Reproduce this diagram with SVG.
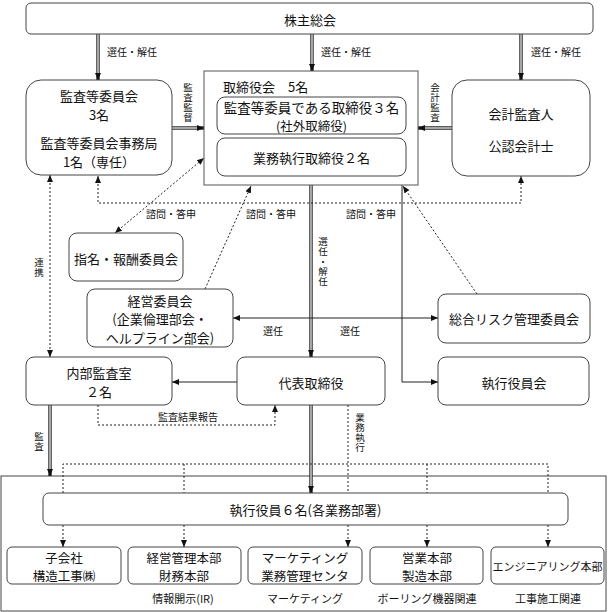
<svg xmlns="http://www.w3.org/2000/svg" width="611" height="612" viewBox="0 0 611 612">
<style>
text{font-family:"Noto Sans CJK JP","Noto Sans",sans-serif;fill:#111;text-anchor:middle;dominant-baseline:central}
.t13{font-size:13px}
.t12{font-size:12.5px}
.t14{font-size:13.5px}
.t11{font-size:11px}
.lb{font-size:10px}
.vt{font-size:9.5px;writing-mode:vertical-rl;letter-spacing:0.5px}
.box{fill:#fff;stroke:#444;stroke-width:1}
.sq{fill:#fff;stroke:#555;stroke-width:1}
.ln{fill:none;stroke:#222;stroke-width:1}
.dot{fill:none;stroke:#222;stroke-width:1;stroke-dasharray:2,2}
.dbo{fill:none;stroke:#222;stroke-width:3.4}
.dbi{fill:none;stroke:#fff;stroke-width:1.2}
</style>
<defs>
<marker id="ah" markerUnits="userSpaceOnUse" markerWidth="8" markerHeight="8" refX="7" refY="3" orient="auto-start-reverse" viewBox="0 0 8 6">
<path d="M0,0 L7,3 L0,6 z" fill="#111"/>
</marker>
</defs>

<rect x="1" y="476" width="605" height="135" fill="none" stroke="#444" stroke-width="1"/>

<g id="connectors">
<path class="dbo" d="M98,34 V80" marker-end="url(#ah)"/><path class="dbi" d="M98,34 V73"/>
<path class="dbo" d="M312,34 V71" marker-end="url(#ah)"/><path class="dbi" d="M312,34 V64"/>
<path class="dbo" d="M521,34 V80" marker-end="url(#ah)"/><path class="dbi" d="M521,34 V73"/>
<path class="dbo" d="M172,128 H204" marker-end="url(#ah)"/><path class="dbi" d="M172,128 H197"/>
<path class="dbo" d="M452,128 H418" marker-end="url(#ah)"/><path class="dbi" d="M452,128 H425"/>
<path class="dbo" d="M311,185 V357" marker-end="url(#ah)"/><path class="dbi" d="M311,185 V350"/>
<path class="dbo" d="M50,405 V476" marker-end="url(#ah)"/><path class="dbi" d="M50,405 V469"/>
<path class="dbo" d="M311,405 V493" marker-end="url(#ah)"/><path class="dbi" d="M311,405 V486"/>
<path class="ln" d="M402,185 V382 H438" marker-end="url(#ah)"/>
<path class="ln" d="M237,382 H172" marker-end="url(#ah)"/>
<path class="ln" d="M233,318 H438" marker-start="url(#ah)" marker-end="url(#ah)"/>
<path class="dot" d="M50,175 V357" marker-start="url(#ah)" marker-end="url(#ah)"/>
<path class="dot" d="M98,176 V203 H521 V176" marker-start="url(#ah)" marker-end="url(#ah)"/>
<path class="dot" d="M115,233 L204,158" marker-start="url(#ah)" marker-end="url(#ah)"/>
<path class="dot" d="M205,289 L251,186" marker-end="url(#ah)"/>
<path class="dot" d="M477,294 L403,186" marker-end="url(#ah)"/>
<path class="dot" d="M98,405 V425 H275 V405" marker-end="url(#ah)"/>
<path class="dot" d="M348,405 V493"/>
<path class="dot" d="M63,493 V464 H548 V493"/>
<path class="dot" d="M184,464 V493"/>
<path class="dot" d="M427,464 V493"/>
<path class="dot" d="M63,525 V547" marker-end="url(#ah)"/>
<path class="dot" d="M184,525 V547" marker-end="url(#ah)"/>
<path class="dot" d="M348,525 V547" marker-end="url(#ah)"/>
<path class="dot" d="M427,525 V547" marker-end="url(#ah)"/>
<path class="dot" d="M548,525 V547" marker-end="url(#ah)"/>
<text class="lb" x="132" y="51">選任・解任</text>
<text class="lb" x="346" y="51">選任・解任</text>
<text class="lb" x="556" y="51">選任・解任</text>
<text class="lb" x="171" y="213">諮問・答申</text>
<text class="lb" x="271" y="213">諮問・答申</text>
<text class="lb" x="371" y="213">諮問・答申</text>
<text class="lb" x="273" y="330">選任</text>
<text class="lb" x="350" y="330">選任</text>
<text class="lb" x="188" y="416">監査結果報告</text>
<text class="vt" x="188" y="103">監査監督</text>
<text class="vt" x="435" y="103">会計監査</text>
<text class="vt" x="39" y="268">連携</text>
<text class="vt" x="39" y="442">監査</text>
<text class="vt" x="323" y="262">選任・解任</text>
<text class="vt" x="360" y="433">業務執行</text>
<text class="t11" x="183" y="598">情報開示(IR)</text>
<text class="t11" x="305" y="598">マーケティング</text>
<text class="t11" x="427" y="598">ボーリング機器関連</text>
<text class="t11" x="548" y="598">工事施工関連</text>
</g>

<g id="kabunushi">
<rect class="box" x="26" y="3" width="567" height="31" rx="5"/>
<text class="t13" x="310" y="19">株主総会</text>
</g>
<g id="kansa-iinkai">
<rect class="box" x="26" y="80" width="146" height="95" rx="15"/>
<text class="t13"><tspan x="99" y="95">監査等委員会</tspan><tspan x="99" y="114">3名</tspan></text>
<text class="t13"><tspan x="99" y="142">監査等委員会事務局</tspan><tspan x="99" y="161">1名（専任）</tspan></text>
</g>
<g id="torishimariyakukai">
<rect class="sq" x="204" y="71" width="214" height="114"/>
<text class="t13" x="223" y="86" style="text-anchor:start">取締役会　5名</text>
<rect class="box" x="217" y="97" width="189" height="37" rx="8"/>
<text class="t14"><tspan x="311.5" y="106.5">監査等委員である取締役３名</tspan><tspan class="t12" x="311.5" y="125">(社外取締役)</tspan></text>
<rect class="box" x="217" y="138" width="189" height="38" rx="8"/>
<text class="t13" x="311.5" y="157">業務執行取締役２名</text>
</g>
<g id="kaikei-kansanin">
<rect class="box" x="452" y="80" width="138" height="96" rx="15"/>
<text class="t13" x="521" y="113">会計監査人</text>
<text class="t13" x="521" y="145">公認会計士</text>
</g>
<g id="shimei">
<rect class="box" x="69" y="233" width="114" height="48" rx="8"/>
<text class="t13" x="126" y="258">指名・報酬委員会</text>
</g>
<g id="keiei-iinkai">
<rect class="box" x="87" y="289" width="146" height="58" rx="8"/>
<text class="t13"><tspan x="160" y="299.5">経営委員会</tspan><tspan x="160" y="318.2">(企業倫理部会・</tspan><tspan x="160" y="337">ヘルプライン部会)</tspan></text>
</g>
<g id="risk">
<rect class="box" x="438" y="294" width="152" height="49" rx="8"/>
<text class="t13" x="514" y="318">総合リスク管理委員会</text>
</g>
<g id="naibu-kansa">
<rect class="box" x="26" y="357" width="146" height="48" rx="8"/>
<text class="t13"><tspan x="99" y="372">内部監査室</tspan><tspan x="99" y="391">２名</tspan></text>
</g>
<g id="daihyo">
<rect class="box" x="237" y="357" width="148" height="48" rx="8"/>
<text class="t13" x="311" y="382">代表取締役</text>
</g>
<g id="shikko-yakuinkai">
<rect class="box" x="438" y="357" width="151" height="48" rx="8"/>
<text class="t13" x="514" y="382">執行役員会</text>
</g>
<g id="shikko-yakuin">
<rect class="box" x="43" y="493" width="525" height="32" rx="6"/>
<text class="t13" x="305.5" y="509">執行役員６名(各業務部署)</text>
</g>
<g id="kogaisha">
<rect class="box" x="7" y="547" width="114" height="37" rx="5"/>
<text class="t12"><tspan x="64" y="556.5">子会社</tspan><tspan x="64" y="574.8">構造工事㈱</tspan></text>
</g>
<g id="keiei-kanri">
<rect class="box" x="128" y="547" width="113" height="37" rx="5"/>
<text class="t12"><tspan x="184" y="556.5">経営管理本部</tspan><tspan x="184" y="574.8">財務本部</tspan></text>
</g>
<g id="marketing">
<rect class="box" x="248" y="547" width="114" height="37" rx="5"/>
<text class="t12"><tspan x="305" y="556.5">マーケティング</tspan><tspan x="305" y="574.8">業務管理センタ</tspan></text>
</g>
<g id="eigyo">
<rect class="box" x="370" y="547" width="113" height="37" rx="5"/>
<text class="t12"><tspan x="427" y="556.5">営業本部</tspan><tspan x="427" y="574.8">製造本部</tspan></text>
</g>
<g id="engineering">
<rect class="box" x="491" y="547" width="113" height="37" rx="5"/>
<text class="t11" x="547.5" y="566">エンジニアリング本部</text>
</g>
</svg>
